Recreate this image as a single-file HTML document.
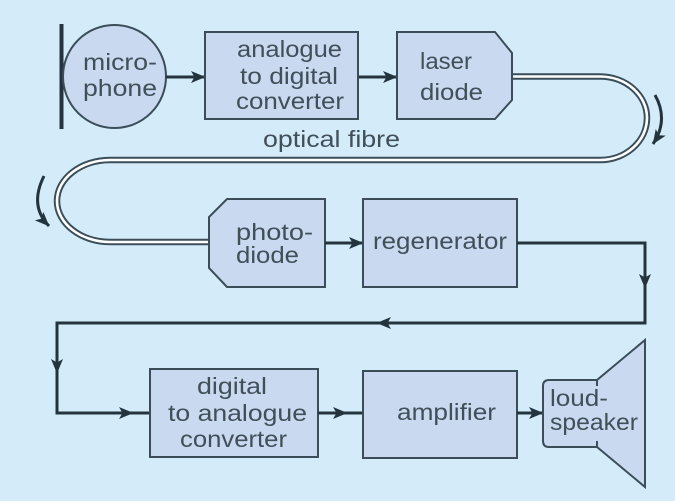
<!DOCTYPE html>
<html><head><meta charset="utf-8"><style>
html,body{margin:0;padding:0;background:#d4ecfa;}
svg{display:block;}
text{font-family:"Liberation Sans",sans-serif;font-size:23px;fill:#414f59;}
</style></head><body>
<svg width="675" height="501" viewBox="0 0 675 501" xmlns="http://www.w3.org/2000/svg">
<defs>
<marker id="ah" markerUnits="userSpaceOnUse" markerWidth="15" markerHeight="13" viewBox="0 0 15 13" refX="14" refY="6.5" orient="auto">
<path d="M0,0.5 L14.5,6.5 L0,12.5 L3.5,6.5 Z" fill="#23343e"/>
</marker>
</defs>
<rect width="675" height="501" fill="#d4ecfa"/>

<!-- fibre -->
<path d="M512,76.5 H600 C626,76.5 647,95 647,118 C647,141 626,160 600,160 H110 C81,160 57,178.4 57,201 C57,223.6 81,242 110,242 H209" fill="none" stroke="#3a4d58" stroke-width="6.5"/>
<path d="M512,76.5 H600 C626,76.5 647,95 647,118 C647,141 626,160 600,160 H110 C81,160 57,178.4 57,201 C57,223.6 81,242 110,242 H209" fill="none" stroke="#ffffff" stroke-width="2.6"/>

<!-- curved arrows -->
<path d="M655,95 Q669,120 653,144" fill="none" stroke="#23343e" stroke-width="3" marker-end="url(#ah)"/>
<path d="M44,176 Q29,206 49,226" fill="none" stroke="#23343e" stroke-width="3" marker-end="url(#ah)"/>

<!-- microphone -->
<rect x="59.5" y="24" width="4" height="105" fill="#23343e"/>
<circle cx="114.5" cy="76.5" r="51.5" fill="#c9d9f0" stroke="#3a4d58" stroke-width="2"/>
<text x="83" y="70" textLength="74" lengthAdjust="spacingAndGlyphs">micro-</text>
<text x="83" y="96" textLength="74" lengthAdjust="spacingAndGlyphs">phone</text>

<!-- arrows top row -->
<path d="M166,77 H205" fill="none" stroke="#23343e" stroke-width="3" marker-end="url(#ah)"/>
<path d="M358,77 H397" fill="none" stroke="#23343e" stroke-width="3" marker-end="url(#ah)"/>

<!-- ADC -->
<rect x="205" y="32" width="153" height="87" fill="#c9d9f0" stroke="#3a4d58" stroke-width="2"/>
<text x="237" y="57" textLength="105" lengthAdjust="spacingAndGlyphs">analogue</text>
<text x="240" y="84" textLength="98" lengthAdjust="spacingAndGlyphs">to digital</text>
<text x="236" y="109" textLength="108" lengthAdjust="spacingAndGlyphs">converter</text>

<!-- laser diode -->
<polygon points="397,32 495,32 512,53 512,100 495,119 397,119" fill="#c9d9f0" stroke="#3a4d58" stroke-width="2"/>
<text x="420" y="69" textLength="52" lengthAdjust="spacingAndGlyphs">laser</text>
<text x="420" y="100" textLength="63" lengthAdjust="spacingAndGlyphs">diode</text>

<text x="263" y="147" textLength="137" lengthAdjust="spacingAndGlyphs">optical fibre</text>

<!-- photodiode -->
<polygon points="227,199 325,199 325,287 227,287 209,268 209,217" fill="#c9d9f0" stroke="#3a4d58" stroke-width="2"/>
<text x="236" y="240" textLength="77" lengthAdjust="spacingAndGlyphs">photo-</text>
<text x="236" y="263" textLength="63" lengthAdjust="spacingAndGlyphs">diode</text>

<path d="M325,243 H363" fill="none" stroke="#23343e" stroke-width="3" marker-end="url(#ah)"/>

<!-- regenerator -->
<rect x="363" y="199" width="154" height="88" fill="#c9d9f0" stroke="#3a4d58" stroke-width="2"/>
<text x="373" y="249" textLength="134" lengthAdjust="spacingAndGlyphs">regenerator</text>

<!-- return route -->
<path d="M517,243 H645 V288" fill="none" stroke="#23343e" stroke-width="3" marker-end="url(#ah)"/>
<path d="M645,285 V323 H377" fill="none" stroke="#23343e" stroke-width="3" marker-end="url(#ah)"/>
<path d="M380,323 H57 V373" fill="none" stroke="#23343e" stroke-width="3" marker-end="url(#ah)"/>
<path d="M57,370 V413 H133" fill="none" stroke="#23343e" stroke-width="3" marker-end="url(#ah)"/>
<path d="M130,413 H150" fill="none" stroke="#23343e" stroke-width="3"/>

<!-- DAC -->
<rect x="150" y="369" width="168" height="88" fill="#c9d9f0" stroke="#3a4d58" stroke-width="2"/>
<text x="197" y="394" textLength="70" lengthAdjust="spacingAndGlyphs">digital</text>
<text x="168" y="421" textLength="139" lengthAdjust="spacingAndGlyphs">to analogue</text>
<text x="180" y="447" textLength="107" lengthAdjust="spacingAndGlyphs">converter</text>

<path d="M318,413 H347" fill="none" stroke="#23343e" stroke-width="3" marker-end="url(#ah)"/>
<path d="M344,413 H363" fill="none" stroke="#23343e" stroke-width="3"/>

<!-- amplifier -->
<rect x="363" y="371" width="154" height="87" fill="#c9d9f0" stroke="#3a4d58" stroke-width="2"/>
<text x="397" y="420" textLength="99" lengthAdjust="spacingAndGlyphs">amplifier</text>

<path d="M517,413 H543" fill="none" stroke="#23343e" stroke-width="3" marker-end="url(#ah)"/>

<!-- loudspeaker -->
<path d="M549,380 H597 L645,340 V487 L597,447 H549 Q543,447 543,441 V386 Q543,380 549,380 Z" fill="#c9d9f0" stroke="#3a4d58" stroke-width="2"/>
<path d="M597,380 V386 M597,441 V447" fill="none" stroke="#3a4d58" stroke-width="2"/>
<text x="550" y="406" textLength="58" lengthAdjust="spacingAndGlyphs">loud-</text>
<text x="550" y="430" textLength="88" lengthAdjust="spacingAndGlyphs">speaker</text>
</svg>
</body></html>
